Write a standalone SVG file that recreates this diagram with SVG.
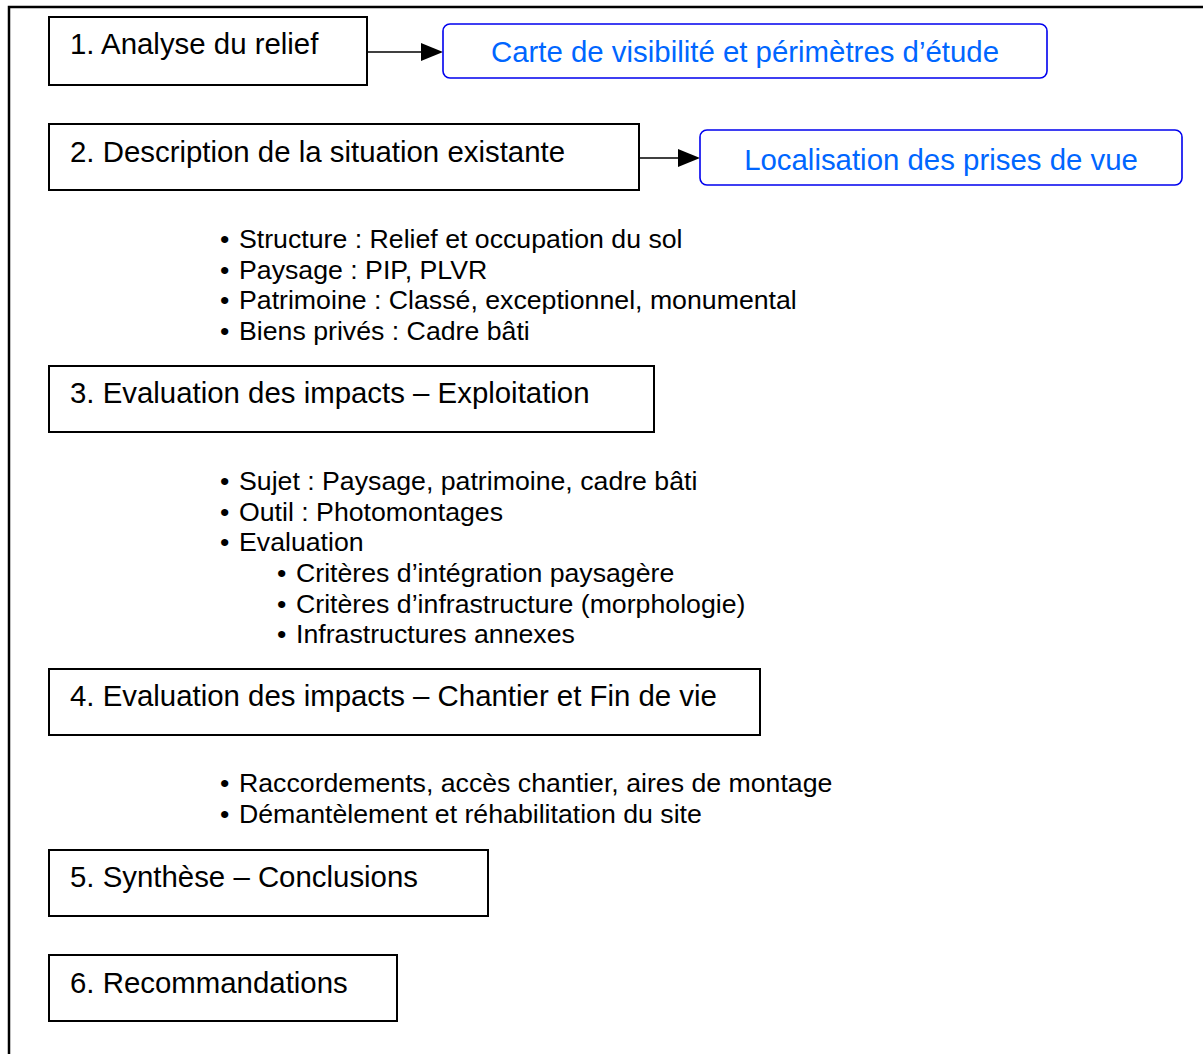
<svg xmlns="http://www.w3.org/2000/svg" width="1203" height="1054" viewBox="0 0 1203 1054">
<style>
.box{fill:#fff;stroke:#000;stroke-width:2}
.blue{fill:#fff;stroke:#0000ee;stroke-width:1.6}
.t{font-family:"Liberation Sans",Arial,sans-serif;font-size:29.4px;fill:#000}
.bt{font-family:"Liberation Sans",Arial,sans-serif;font-size:29.4px;fill:#0066ff;text-anchor:middle}
.li{font-family:"Liberation Sans",Arial,sans-serif;font-size:26.7px;fill:#000}
.con{stroke:#000;stroke-width:1.6;fill:none}
</style>
<rect width="1203" height="1054" fill="#fff"/>
<path d="M9,1054 V7 H1203" fill="none" stroke="#000" stroke-width="2.5"/>
<g id="connectors">
<line class="con" x1="367" y1="52" x2="430" y2="52"/>
<path d="M421,43 L443,52 L421,61 Z" fill="#000"/>
<line class="con" x1="639" y1="158" x2="688" y2="158"/>
<path d="M678,149 L700,158 L678,167 Z" fill="#000"/>
</g>
<g id="n1"><rect class="box" x="49" y="17" width="318" height="68"/><text class="t" x="70" y="54">1. Analyse du relief</text></g>
<g id="b1"><rect class="blue" x="443" y="24" width="604" height="54" rx="7"/><text class="bt" x="745" y="62">Carte de visibilité et périmètres d’étude</text></g>
<g id="n2"><rect class="box" x="49" y="124" width="590" height="66"/><text class="t" x="70" y="162">2. Description de la situation existante</text></g>
<g id="b2"><rect class="blue" x="700" y="130" width="482" height="55" rx="7"/><text class="bt" x="941" y="170">Localisation des prises de vue</text></g>
<g id="list1">
<text class="li" x="220" y="248">•</text><text class="li" x="239" y="248">Structure : Relief et occupation du sol</text>
<text class="li" x="220" y="279">•</text><text class="li" x="239" y="279">Paysage : PIP, PLVR</text>
<text class="li" x="220" y="309">•</text><text class="li" x="239" y="309">Patrimoine : Classé, exceptionnel, monumental</text>
<text class="li" x="220" y="340">•</text><text class="li" x="239" y="340">Biens privés : Cadre bâti</text>
</g>
<g id="n3"><rect class="box" x="49" y="366" width="605" height="66"/><text class="t" x="70" y="403">3. Evaluation des impacts – Exploitation</text></g>
<g id="list2">
<text class="li" x="220" y="490">•</text><text class="li" x="239" y="490">Sujet : Paysage, patrimoine, cadre bâti</text>
<text class="li" x="220" y="521">•</text><text class="li" x="239" y="521">Outil : Photomontages</text>
<text class="li" x="220" y="551">•</text><text class="li" x="239" y="551">Evaluation</text>
<text class="li" x="277" y="582">•</text><text class="li" x="296" y="582">Critères d’intégration paysagère</text>
<text class="li" x="277" y="613">•</text><text class="li" x="296" y="613">Critères d’infrastructure (morphologie)</text>
<text class="li" x="277" y="643">•</text><text class="li" x="296" y="643">Infrastructures annexes</text>
</g>
<g id="n4"><rect class="box" x="49" y="669" width="711" height="66"/><text class="t" x="70" y="706">4. Evaluation des impacts – Chantier et Fin de vie</text></g>
<g id="list3">
<text class="li" x="220" y="792">•</text><text class="li" x="239" y="792">Raccordements, accès chantier, aires de montage</text>
<text class="li" x="220" y="823">•</text><text class="li" x="239" y="823">Démantèlement et réhabilitation du site</text>
</g>
<g id="n5"><rect class="box" x="49" y="850" width="439" height="66"/><text class="t" x="70" y="887">5. Synthèse – Conclusions</text></g>
<g id="n6"><rect class="box" x="49" y="955" width="348" height="66"/><text class="t" x="70" y="993">6. Recommandations</text></g>
</svg>
